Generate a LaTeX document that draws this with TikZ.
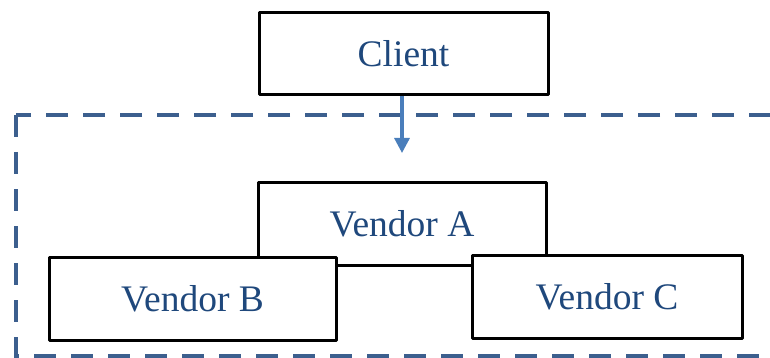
\documentclass[tikz,border=0pt]{standalone}
\usepackage{fontspec}
\setmainfont{Liberation Serif}
\usetikzlibrary{arrows.meta}
\definecolor{dashblue}{HTML}{3C5F8E}
\definecolor{txtblue}{HTML}{1F487C}
\definecolor{arrblue}{HTML}{4A7EBB}
\tikzset{
  box/.style={draw=black, line width=3pt, fill=white, line join=round, text=txtblue,
    font=\fontsize{37.5}{42}\selectfont, inner sep=0pt, anchor=center},
  flow/.style={draw=arrblue, line width=3.2pt, -{Triangle[width=15pt,length=15pt]}},
  group/.style={draw=dashblue, line width=4pt, dash pattern=on 22pt off 15pt}
}
\begin{document}
\begin{tikzpicture}[x=1pt,y=-1pt]
\useasboundingbox (0,0) rectangle (770,358);
\begin{scope}
\clip (0,0) rectangle (770,358);
\draw[group] (16,115) rectangle (800,356);
\end{scope}
\node[box, minimum width=289pt, minimum height=82pt] (client) at (403.5,54) {Client};
\node[box, minimum width=288pt, minimum height=83pt] (va) at (402,223.5) {Vendor A};
\node[box, minimum width=287pt, minimum height=83pt] (vb) at (192.5,298.5) {Vendor B};
\node[box, minimum width=270pt, minimum height=83pt] (vc) at (607,296.5) {Vendor C};
\coordinate (tip) at (402,153);
\draw[flow] (client.south -| tip) -- (tip);
\end{tikzpicture}
\end{document}
